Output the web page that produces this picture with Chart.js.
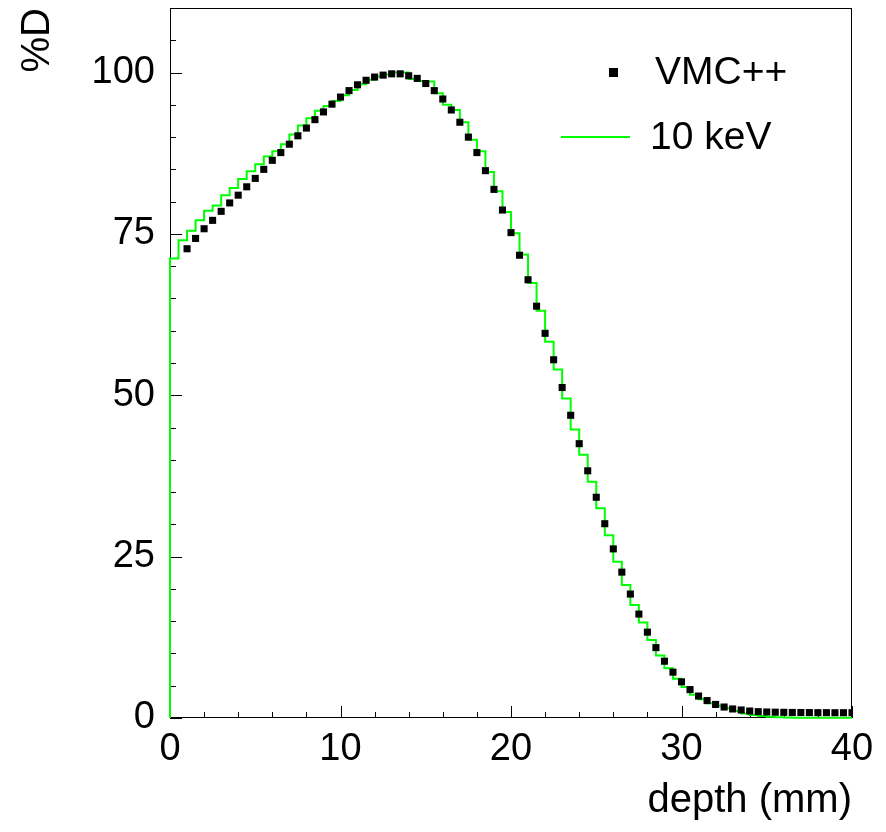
<!DOCTYPE html>
<html>
<head>
<meta charset="utf-8">
<script src="https://cdn.jsdelivr.net/npm/chart.js@4.4.0/dist/chart.umd.min.js"></script>
<style>
  body { margin: 0; background: #fff; }
  #wrap { width: 886px; height: 832px; }
</style>
</head>
<body>
<div id="wrap"><canvas id="doseChart" width="886" height="832"></canvas></div>
<script>
// depth dose curves (%D)
const binWidth = 0.5;       // mm
const vmcFirstDepth = 1.0;  // first VMC++ point, mm

const vmcDose = [
  72.7, 74.3, 75.8, 77.1, 78.5, 79.8, 81.0, 82.3, 83.6, 85.0,
  86.4, 87.6, 88.9, 90.2, 91.4, 92.7, 93.9, 95.1, 96.2, 97.2,
  98.1, 98.8, 99.3, 99.6, 99.8, 99.8, 99.5, 99.1, 98.3, 97.2,
  95.9, 94.2, 92.3, 90.0, 87.6, 84.8, 81.9, 78.7, 75.2, 71.7,
  67.9, 63.8, 59.6, 55.5, 51.2, 46.9, 42.5, 38.3, 34.2, 30.1,
  26.2, 22.6, 19.2, 16.1, 13.3, 10.9, 8.8, 7.1, 5.6, 4.4,
  3.4, 2.7, 2.1, 1.7, 1.4, 1.24, 1.08, 0.98, 0.93, 0.9,
  0.88, 0.86, 0.85, 0.84, 0.83, 0.83, 0.82, 0.82, 0.82
];

// 10 keV histogram, one value per 0.5 mm bin from 0 to 40 mm
const kev10Dose = [
  71.2, 74.0, 75.5, 77.1, 78.6, 79.4, 81.0, 82.1, 83.5, 84.7,
  85.8, 87.0, 87.8, 88.9, 90.4, 91.8, 92.9, 94.1, 94.8, 95.6,
  96.5, 97.3, 98.2, 98.9, 99.4, 99.7, 100.0, 100.0, 99.0, 98.7,
  98.6, 96.8, 95.0, 94.2, 92.3, 89.6, 87.8, 84.6, 81.6, 78.4,
  75.1, 71.8, 67.4, 63.1, 58.3, 54.0, 49.5, 44.7, 40.8, 36.6,
  32.5, 28.3, 24.2, 20.6, 17.5, 14.8, 12.1, 9.7, 7.7, 6.1,
  4.8, 3.6, 2.9, 2.3, 1.9, 1.5, 1.1, 0.7, 0.45, 0.3,
  0.2, 0.12, 0.08, 0.05, 0.04, 0.03, 0.03, 0.03, 0.03, 0.03
];

const seriesLabels = ['VMC++', '10 keV'];
const xTitle = 'depth (mm)';
const yTitle = '%D';

const FONT = '"Liberation Sans", Arial, Helvetica, sans-serif';

const vmcPoints = vmcDose.map((v, i) => ({ x: vmcFirstDepth + i * binWidth, y: v }));
const histPoints = [{ x: 0, y: 0 }];
kev10Dose.forEach((v, i) => histPoints.push({ x: i * binWidth, y: v }));
histPoints.push({ x: kev10Dose.length * binWidth, y: kev10Dose[kev10Dose.length - 1] });

// frame + inward ticks like ROOT
const framePlugin = {
  id: 'frame',
  beforeDatasetsDraw(chart) {
    const { ctx, chartArea: a, scales } = chart;
    ctx.save();
    ctx.strokeStyle = '#000';
    ctx.lineWidth = 1;
    ctx.strokeRect(a.left + 0.5, a.top + 0.5, a.right - a.left - 1, a.bottom - a.top - 1);
    ctx.beginPath();
    for (let v = 0; v <= 40; v += 2) {
      const px = Math.round(scales.x.getPixelForValue(v)) + 0.5;
      const len = v % 10 === 0 ? 12 : 6;
      ctx.moveTo(px, a.bottom);
      ctx.lineTo(px, a.bottom - len);
    }
    for (let v = 0; v <= 110; v += 5) {
      const py = Math.round(scales.y.getPixelForValue(v)) + 0.5;
      const len = v % 25 === 0 ? 12 : 6;
      ctx.moveTo(a.left, py);
      ctx.lineTo(a.left + len, py);
    }
    ctx.stroke();
    ctx.restore();
  }
};

// legend box in the upper right like the original
const legendPlugin = {
  id: 'rootLegend',
  afterDatasetsDraw(chart) {
    const { ctx } = chart;
    ctx.save();
    ctx.font = '39px ' + FONT;
    ctx.textBaseline = 'middle';
    ctx.fillStyle = '#000';
    ctx.fillRect(609, 68, 9, 9);
    ctx.fillText(seriesLabels[0], 655, 73);
    ctx.strokeStyle = '#00ff00';
    ctx.lineWidth = 2;
    ctx.beginPath();
    ctx.moveTo(561, 137);
    ctx.lineTo(630, 137);
    ctx.stroke();
    ctx.fillText(seriesLabels[1], 650, 138);
    ctx.restore();
  }
};

new Chart(document.getElementById('doseChart'), {
  type: 'scatter',
  data: {
    datasets: [
      {
        label: seriesLabels[0],
        data: vmcPoints,
        showLine: false,
        pointStyle: 'rect',
        pointRadius: 5,
        pointBorderWidth: 0,
        backgroundColor: '#000',
        borderColor: '#000',
        clip: 0
      },
      {
        label: seriesLabels[1],
        type: 'line',
        data: histPoints,
        stepped: true,
        showLine: true,
        pointRadius: 0,
        borderColor: '#00ff00',
        borderWidth: 2,
        fill: false,
        clip: { left: 1, top: 0, right: 0, bottom: 1 }
      }
    ]
  },
  options: {
    responsive: false,
    animation: false,
    layout: { padding: { left: 0, right: 34, top: 8, bottom: 0 } },
    plugins: {
      legend: { display: false },
      tooltip: { enabled: false }
    },
    scales: {
      x: {
        type: 'linear',
        min: 0,
        max: 40,
        afterFit(scale) {
          scale.height = 114;
          scale.paddingLeft = 0;
          scale.paddingRight = 0;
        },
        grid: { display: false, drawTicks: false },
        border: { display: false },
        ticks: {
          stepSize: 10,
          padding: 9,
          color: '#000',
          font: { family: FONT, size: 38 }
        },
        title: {
          display: true,
          text: xTitle,
          align: 'end',
          color: '#000',
          padding: { top: 0, bottom: 7 },
          font: { family: FONT, size: 40 }
        }
      },
      y: {
        type: 'linear',
        min: 0,
        max: 110,
        afterFit(scale) {
          scale.width = 170;
          scale.paddingTop = 0;
          scale.paddingBottom = 0;
        },
        grid: { display: false, drawTicks: false },
        border: { display: false },
        ticks: {
          stepSize: 25,
          includeBounds: false,
          padding: 15,
          color: '#000',
          font: { family: FONT, size: 38 }
        },
        title: {
          display: true,
          text: yTitle,
          align: 'end',
          color: '#000',
          padding: { top: 14, bottom: 0 },
          font: { family: FONT, size: 40 }
        }
      }
    }
  },
  plugins: [framePlugin, legendPlugin]
});
</script>
</body>
</html>
